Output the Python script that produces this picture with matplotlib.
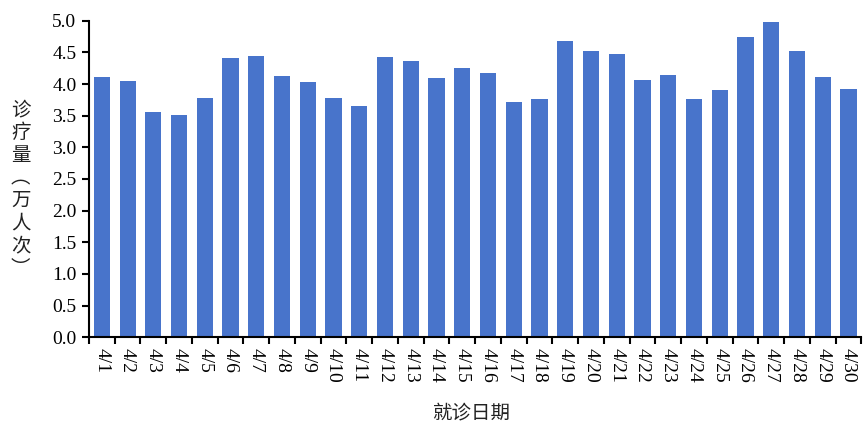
import numpy as np
import matplotlib
matplotlib.use("Agg")
import matplotlib.pyplot as plt

# 数据：4月每日就诊量（万人次）
dates = ["4/%d" % d for d in range(1, 31)]
visits = [4.11, 4.05, 3.56, 3.51, 3.78, 4.41, 4.44, 4.13, 4.03, 3.78,
          3.65, 4.43, 4.37, 4.10, 4.25, 4.18, 3.72, 3.76, 4.68, 4.52,
          4.48, 4.06, 4.14, 3.76, 3.91, 4.74, 4.98, 4.52, 4.11, 3.92]
y_ticks = [0.0, 0.5, 1.0, 1.5, 2.0, 2.5, 3.0, 3.5, 4.0, 4.5, 5.0]

cjk = ["Noto Sans CJK SC", "DejaVu Sans"]
num_font = "Liberation Serif"

fig = plt.figure(figsize=(8.64, 4.30), dpi=100)
ax = fig.add_axes([0.103, 0.2156, 0.894, 0.7363])

x = np.arange(len(dates))
ax.bar(x, visits, width=0.63, color="#4874CB", zorder=2)

ax.set_xlim(-0.5, len(dates) - 0.5)
ax.set_ylim(0, 5.0)
ax.set_yticks(y_ticks)
ax.set_yticklabels(["%.1f" % v for v in y_ticks], fontfamily=num_font, fontsize=14)

# 标签在柱子中心，刻度线在分类边界
ax.set_xticks(x)
ax.set_xticklabels(dates, rotation=270, fontfamily=num_font, fontsize=14, va="top")
ax.tick_params(axis="x", which="major", length=0, pad=8)
ax.set_xticks(np.arange(-0.5, len(dates), 1.0), minor=True)
ax.tick_params(axis="x", which="minor", length=5, width=1.5, direction="out")
ax.tick_params(axis="y", length=5, width=1.5, direction="out", pad=4)

for s in ["top", "right"]:
    ax.spines[s].set_visible(False)
for s in ["left", "bottom"]:
    ax.spines[s].set_linewidth(1.5)
    ax.spines[s].set_color("black")

# 纵向排列的y轴标题
ylab = "\n".join("诊疗量︵万人次︶")
fig.text(0.024, 0.56, ylab, family=cjk, fontsize=14, ha="center", va="center",
         linespacing=1.1, color="#222222")
fig.text(0.545, 0.04, "就诊日期", family=cjk, fontsize=14, ha="center", va="center",
         color="#222222")

fig.savefig("out.png", dpi=100)
